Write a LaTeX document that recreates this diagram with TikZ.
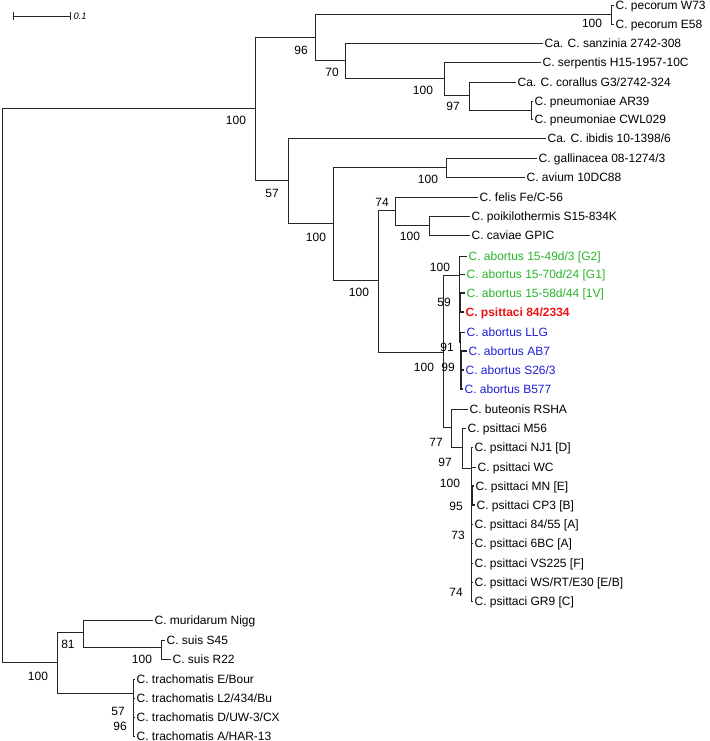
\documentclass[tikz,border=0pt]{standalone}
\usepackage{fontspec}
\setmainfont{Liberation Sans}
\definecolor{abgreen}{RGB}{40,180,40}
\definecolor{abblue}{RGB}{30,30,215}
\definecolor{psred}{RGB}{235,20,20}

\begin{document}
\begin{tikzpicture}[x=0.75pt,y=-0.75pt,
  br/.style={draw,line width=0.6pt,color=black!85},
  thickbr/.style={draw,line width=1.3pt,color=black!85},
  tip/.style={anchor=west,inner sep=1pt,text height=7pt,text depth=0.6pt,font=\fontsize{9}{10}\selectfont},
  bs/.style={inner sep=0pt,font=\fontsize{9}{10}\selectfont}]
\useasboundingbox (0,0) rectangle (709,741);

% scale bar
\coordinate (s1) at (13,16);
\coordinate (s2) at (71,16);
\path[br,|-|] (s1) -- (s2);
\node[anchor=west,inner sep=1pt,font=\fontsize{7}{8}\selectfont\itshape] (sbl) at (72,16) {0.1};

% inner nodes
\coordinate (r) at (2,385);
\coordinate (t) at (255,108);
\coordinate (n96) at (315,37);
\coordinate (pec) at (611,14.5);
\coordinate (n70) at (345,60);
\coordinate (serp) at (444,78);
\coordinate (n97) at (469,95);
\coordinate (pneu) at (531,110);
\coordinate (n57) at (288,180);
\coordinate (nb) at (333,223);
\coordinate (gal) at (446,167);
\coordinate (nc) at (378,280);
\coordinate (n74) at (395,210);
\coordinate (poi) at (429,225.5);
\coordinate (nd) at (443,352);
\coordinate (abo) at (459,275);
\coordinate (a59) at (460.5,302);
\coordinate (a91) at (460,342);
\coordinate (a99) at (461,370);
\coordinate (n77) at (451,427);
\coordinate (n97b) at (462,447);
\coordinate (core) at (471,468);
\coordinate (c95) at (472,495);
\coordinate (bt) at (57,662);
\coordinate (n81) at (83,632);
\coordinate (suis) at (161,647);
\coordinate (tra) at (133,693);

% leaves
\node[tip] (w73) at (614,5.5) {C. pecorum W73};
\node[tip] (e58) at (614,24) {C. pecorum E58};
\node[tip] (san) at (543,43) {Ca. C. sanzinia 2742-308};
\node[tip] (ser) at (541,62) {C. serpentis H15-1957-10C};
\node[tip] (cor) at (516,82) {Ca. C. corallus G3/2742-324};
\node[tip] (ar39) at (533,101) {C. pneumoniae AR39};
\node[tip] (cwl) at (533,119) {C. pneumoniae CWL029};
\node[tip] (ibi) at (546,138) {Ca. C. ibidis 10-1398/6};
\node[tip] (gall) at (537,158) {C. gallinacea 08-1274/3};
\node[tip] (avi) at (525,177) {C. avium 10DC88};
\node[tip] (fel) at (478,197) {C. felis Fe/C-56};
\node[tip] (poik) at (470,216) {C. poikilothermis S15-834K};
\node[tip] (cav) at (470,235) {C. caviae GPIC};
\node[tip,abgreen] (g2) at (467,256) {C. abortus 15-49d/3 [G2]};
\node[tip,abgreen] (g1) at (465,274) {C. abortus 15-70d/24 [G1]};
\node[tip,abgreen] (v1) at (465,293) {C. abortus 15-58d/44 [1V]};
\node[tip,psred,font=\fontsize{9}{10}\selectfont\bfseries] (p84) at (464,312) {C. psittaci 84/2334};
\node[tip,abblue] (llg) at (465,332) {C. abortus LLG};
\node[tip,abblue] (ab7) at (467,351) {C. abortus AB7};
\node[tip,abblue] (s26) at (464,370) {C. abortus S26/3};
\node[tip,abblue] (b577) at (463,389) {C. abortus B577};
\node[tip] (but) at (468,409) {C. buteonis RSHA};
\node[tip] (m56) at (466,428) {C. psittaci M56};
\node[tip] (nj1) at (473,447) {C. psittaci NJ1 [D]};
\node[tip] (wc) at (476,467) {C. psittaci WC};
\node[tip] (mn) at (474,486) {C. psittaci MN [E]};
\node[tip] (cp3) at (475,505) {C. psittaci CP3 [B]};
\node[tip] (p8455) at (473,524) {C. psittaci 84/55 [A]};
\node[tip] (bc6) at (473,543) {C. psittaci 6BC [A]};
\node[tip] (vs) at (473,563) {C. psittaci VS225 [F]};
\node[tip] (ws) at (473,582) {C. psittaci WS/RT/E30 [E/B]};
\node[tip] (gr9) at (473,601) {C. psittaci GR9 [C]};
\node[tip] (mur) at (153,620) {C. muridarum Nigg};
\node[tip] (s45) at (165,640) {C. suis S45};
\node[tip] (r22) at (171,659) {C. suis R22};
\node[tip] (eb) at (135,679) {C. trachomatis E/Bour};
\node[tip] (l2) at (135,698) {C. trachomatis L2/434/Bu};
\node[tip] (duw) at (135,717) {C. trachomatis D/UW-3/CX};
\node[tip] (ahar) at (135,736) {C. trachomatis A/HAR-13};

% branches
\path[br] (r) |- (t) (r) |- (bt);
\path[br] (t) |- (n96) (t) |- (n57);
\path[br] (n96) |- (pec) (n96) |- (n70);
\path[br] (pec) |- (w73.west) (pec) |- (e58.west);
\path[br] (n70) |- (san.west) (n70) |- (serp);
\path[br] (serp) |- (ser.west) (serp) |- (n97);
\path[br] (n97) |- (cor.west) (n97) |- (pneu);
\path[br] (pneu) |- (ar39.west) (pneu) |- (cwl.west);
\path[br] (n57) |- (ibi.west) (n57) |- (nb);
\path[br] (nb) |- (gal) (nb) |- (nc);
\path[br] (gal) |- (gall.west) (gal) |- (avi.west);
\path[br] (nc) |- (n74) (nc) |- (nd);
\path[br] (n74) |- (fel.west) (n74) |- (poi);
\path[br] (poi) |- (poik.west) (poi) |- (cav.west);
\path[br] (nd) |- (abo) (nd) |- (n77);
\path[br] (abo) |- (g2.west) (abo) |- (g1.west) (abo) |- (a59) (abo) |- (a91);
\path[thickbr] (a59) |- (v1.west) (a59) |- (p84.west);
\path[br] (a91) |- (llg.west) (a91) |- (a99);
\path[thickbr] (a99) |- (ab7.west) (a99) |- (s26.west) (a99) |- (b577.west);
\path[br] (n77) |- (but.west) (n77) |- (n97b);
\path[br] (n97b) |- (m56.west) (n97b) |- (core);
\path[br] (core) |- (nj1.west) (core) |- (wc.west) (core) |- (c95)
  (core) |- (p8455.west) (core) |- (bc6.west) (core) |- (vs.west)
  (core) |- (ws.west) (core) |- (gr9.west);
\path[thickbr] (c95) |- (mn.west) (c95) |- (cp3.west);
\path[br] (bt) |- (n81) (bt) |- (tra);
\path[br] (n81) |- (mur.west) (n81) |- (suis);
\path[br] (suis) |- (s45.west) (suis) |- (r22.west);
\path[br] (tra) |- (eb.west) (tra) |- (l2.west) (tra) |- (duw.west) (tra) |- (ahar.west);

% bootstrap values
\node[bs] (bt100) at (236,120) {100};
\node[bs] (b96) at (301,50) {96};
\node[bs] (bpec) at (592,23) {100};
\node[bs] (b70) at (332,72) {70};
\node[bs] (bserp) at (423,90) {100};
\node[bs] (b97) at (453,106) {97};
\node[bs] (b57) at (272,193) {57};
\node[bs] (bnb) at (316,237) {100};
\node[bs] (bgal) at (428,179) {100};
\node[bs] (bnc) at (359,292) {100};
\node[bs] (b74) at (382,202) {74};
\node[bs] (bpoi) at (410,236) {100};
\node[bs] (babo) at (440,267) {100};
\node[bs] (b59) at (444,302) {59};
\node[bs] (b91) at (447,347) {91};
\node[bs] (bnd) at (424,367) {100};
\node[bs] (b99) at (448,367) {99};
\node[bs] (b77) at (436,442) {77};
\node[bs] (b97b) at (445,462) {97};
\node[bs] (bcore) at (450,483) {100};
\node[bs] (b95) at (456,506) {95};
\node[bs] (b73) at (458,535) {73};
\node[bs] (b74b) at (456,592) {74};
\node[bs] (bbt) at (38,676) {100};
\node[bs] (b81) at (68,644) {81};
\node[bs] (bsuis) at (142,659) {100};
\node[bs] (b57b) at (118,711) {57};
\node[bs] (b96b) at (120,726) {96};
\end{tikzpicture}
\end{document}
